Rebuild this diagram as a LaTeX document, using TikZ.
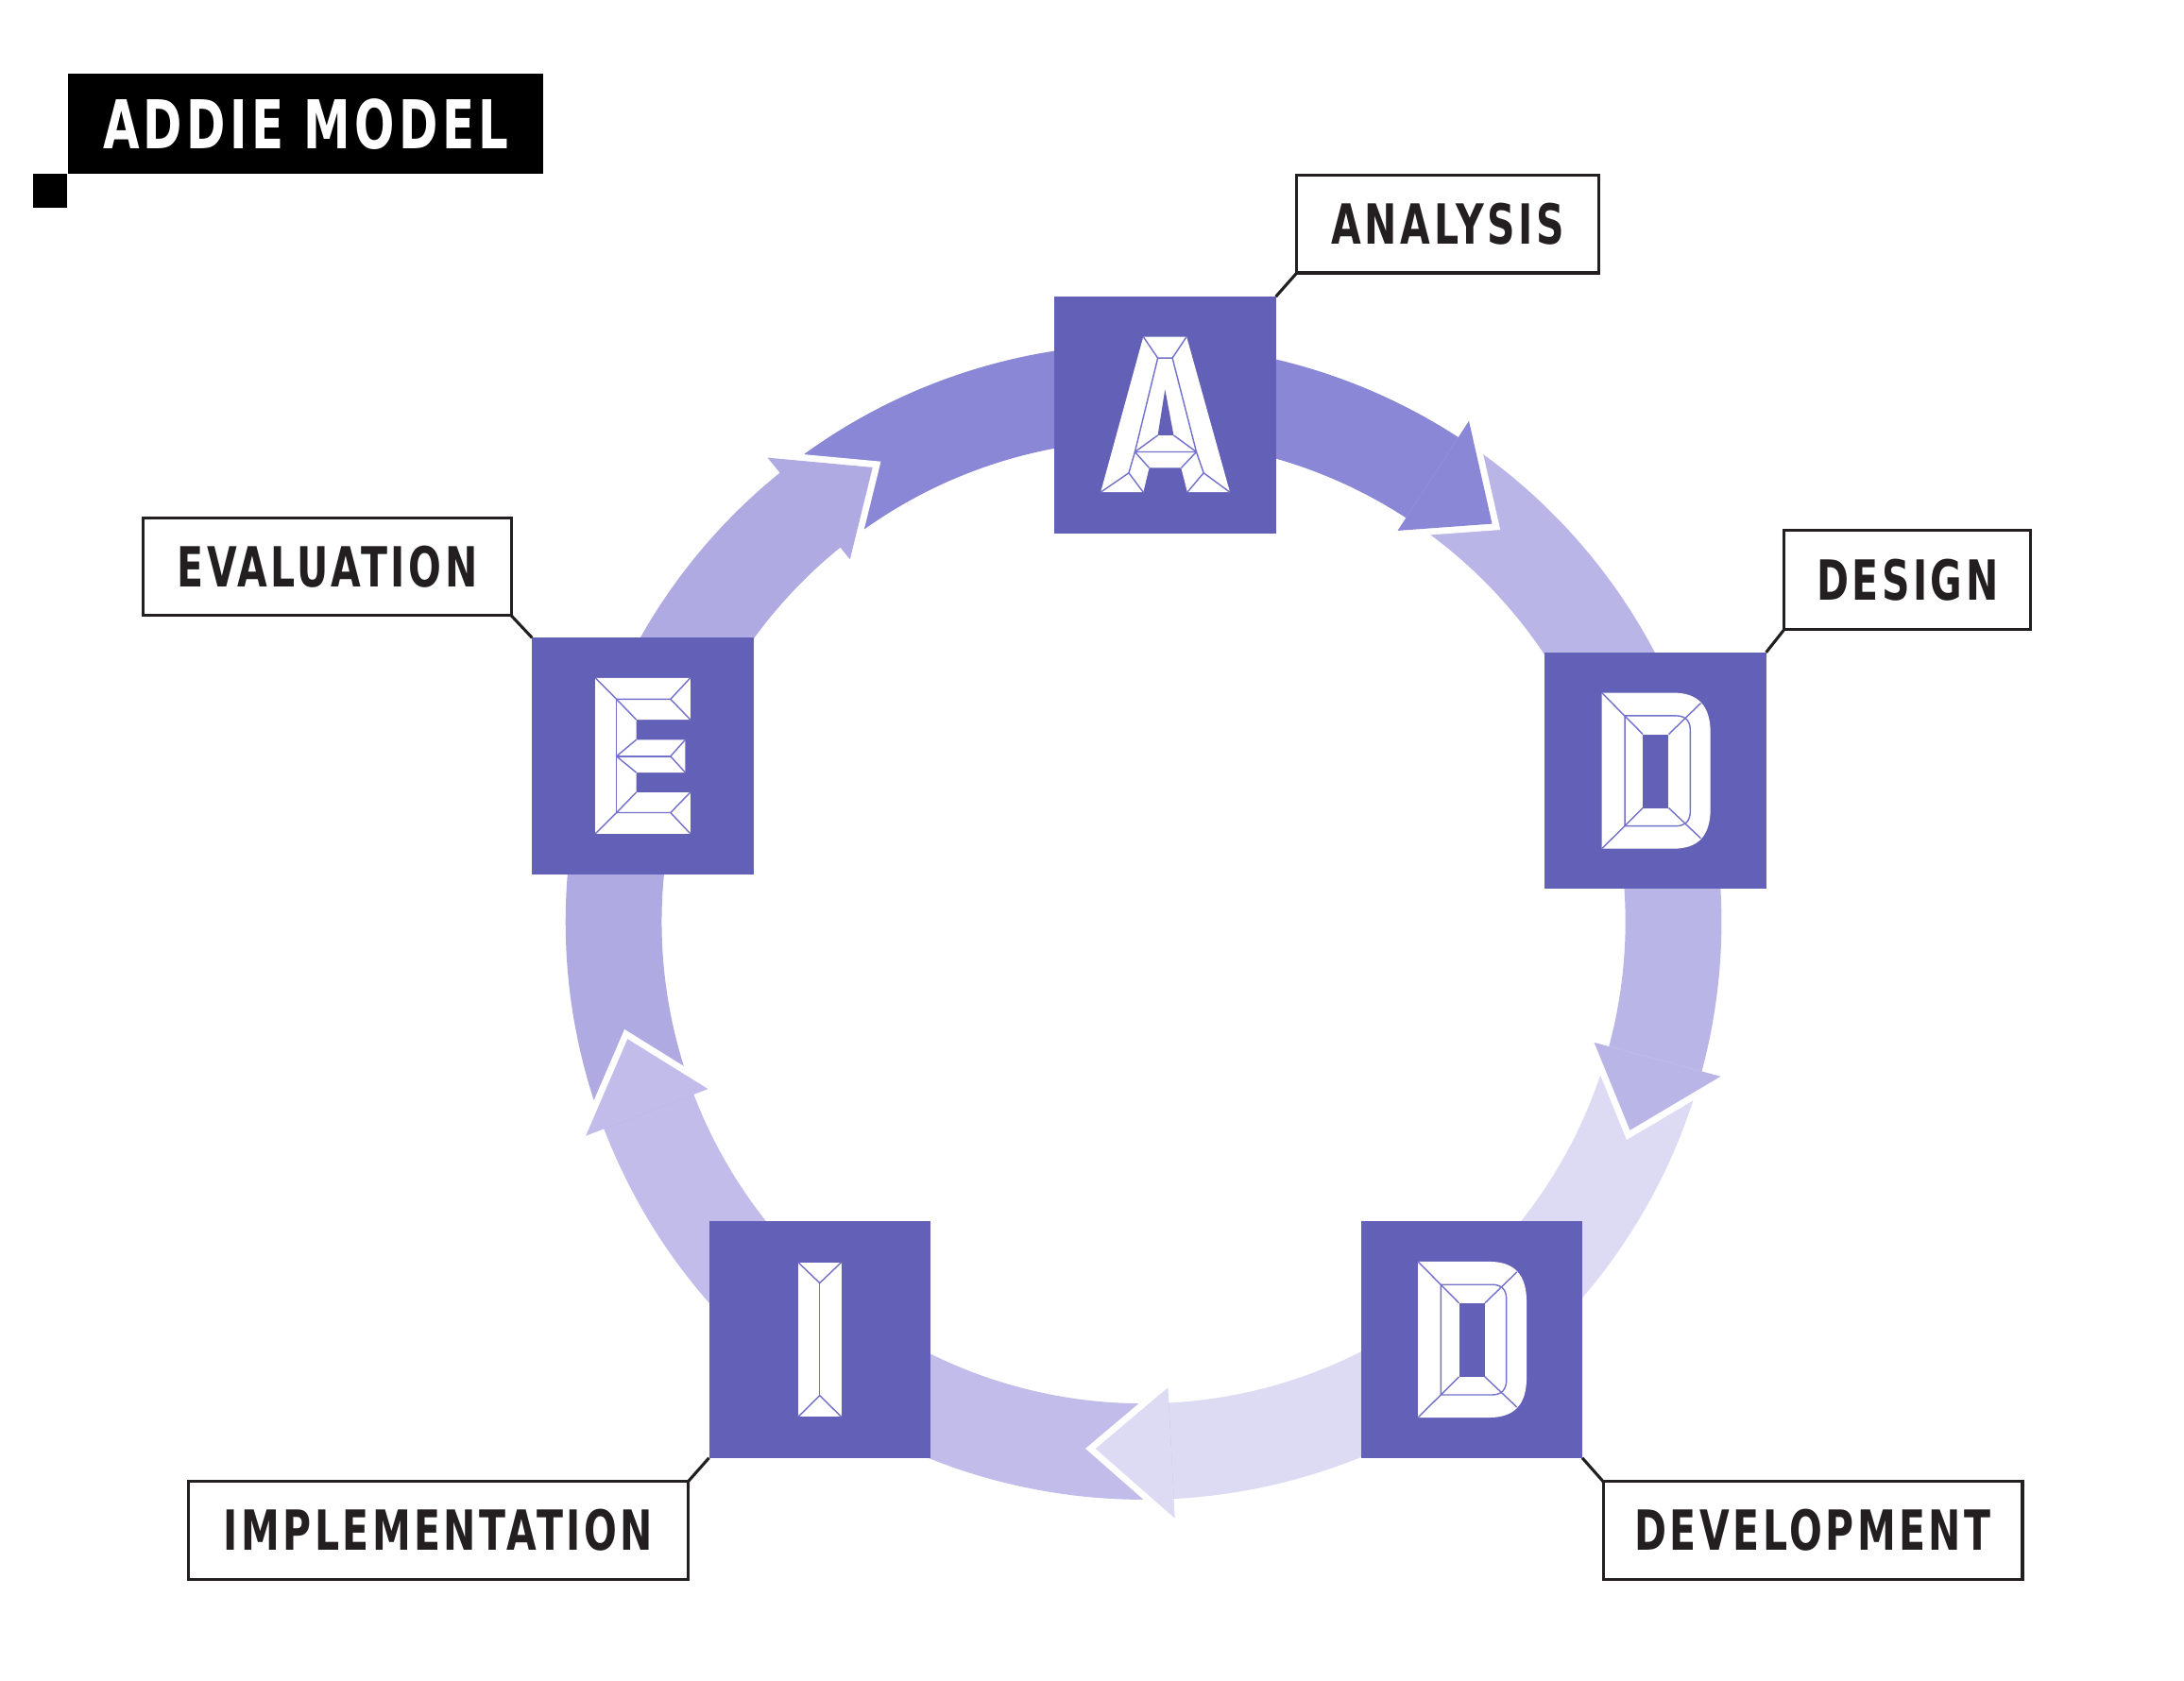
\documentclass[tikz,border=0pt]{standalone}
\usepackage{fontspec}
\newfontfamily\lblfont[FakeStretch=0.70,LetterSpace=6]{DejaVu Sans}
\definecolor{boxc}{HTML}{6361B7}
\definecolor{bandA}{HTML}{8B87D7}
\definecolor{bandD}{HTML}{B9B6E7}
\definecolor{bandV}{HTML}{DDDBF3}
\definecolor{bandI}{HTML}{C1BCEA}
\definecolor{bandE}{HTML}{AFAAE2}
\definecolor{ink}{HTML}{231F20}
\definecolor{bevel}{HTML}{7471CC}
\newcommand\ringband[3]{\fill[#3] (#1:8.3cm) arc[start angle=#1,end angle=#2,radius=8.3cm] -- (#2:6.92cm) arc[start angle=#2,end angle=#1,radius=6.92cm] -- cycle;}
\newcommand\ringhead[2]{\draw[white,line width=0.19cm,line join=miter] (#1:8.58cm) -- ({#1-8.2}:7.6cm) -- (#1:6.7cm);
  \fill[#2] (#1:8.58cm) -- ({#1-8.2}:7.6cm) -- (#1:6.7cm) -- cycle;}
\begin{document}
\begin{tikzpicture}[x=0.02cm,y=0.02cm,
  stagebox/.style={fill=boxc, minimum width=3.18cm, minimum height=3.4cm, inner sep=0pt, outer sep=0pt},
  lbl/.style={draw=ink, line width=1.2pt, fill=white, text=ink, font=\lblfont\bfseries\fontsize{22.6}{26}\selectfont, minimum height=1.4cm, inner sep=0pt, outer sep=0pt},
  link/.style={draw=ink, line width=1.2pt},
  glyph/.style={fill=white},
  hole/.style={fill=boxc},
  bev/.style={draw=bevel, line width=0.55pt, line join=round}]
\useasboundingbox (0,0) rectangle (1568,1207);
\fill[white] (0,0) rectangle (1568,1207);

% title
\node[fill=black, text=white, minimum width=6.82cm, minimum height=1.44cm, inner sep=0pt, outer sep=0pt,
  font=\lblfont\bfseries\fontsize{27.5}{32}\selectfont] (title) at (219.5,1118) {ADDIE MODEL};
\fill[black] (24,1058) rectangle (48,1082);

% ring
\begin{scope}[shift={(821,545)}]
  \ringband{129}{56}{bandA}
  \ringband{57}{-16}{bandD}
  \ringband{-15}{-88}{bandV}
  \ringband{-87}{-160}{bandI}
  \ringband{-159}{-232}{bandE}
  \ringhead{57}{bandA}
  \ringhead{-15}{bandD}
  \ringhead{-87}{bandV}
  \ringhead{-159}{bandI}
  \ringhead{-231}{bandE}
\end{scope}

% stage boxes
\node[stagebox] (A) at (836.5,909) {};
\node[stagebox] (D) at (1188.5,653.5) {};
\node[stagebox] (V) at (1056.5,245) {};
\node[stagebox] (I) at (588.5,245) {};
\node[stagebox] (E) at (461.5,664) {};

% letter A
\begin{scope}[shift={(A.north west)}, yscale=-1]
  \fill[glyph] (63.8,28.8) -- (94.9,28.8) -- (126,140.5) -- (95.4,140.5) -- (91,123) -- (68,123) -- (63.8,140.5) -- (33.2,140.5) -- cycle;
  \fill[hole] (79.4,66.6) -- (85.6,99.6) -- (74.2,99.6) -- cycle;
  \draw[bev] (63.8,28.8) -- (74.2,44.1) -- (84.7,44.1) -- (94.9,28.8);
  \draw[bev] (74.2,44.1) -- (57.8,111.5) -- (101.9,111.5) -- (84.7,44.1);
  \draw[bev] (74.2,99.6) -- (57.8,111.5) -- (68,123);
  \draw[bev] (85.6,99.6) -- (101.9,111.5) -- (91,123);
  \draw[bev] (57.8,111.5) -- (53.4,126.6) -- (33.2,140.5);
  \draw[bev] (53.4,126.6) -- (63.8,140.5);
  \draw[bev] (101.9,111.5) -- (107.1,126.6) -- (126,140.5);
  \draw[bev] (107.1,126.6) -- (95.4,140.5);
\end{scope}

% letter D (design) and D (development)
\foreach \bx in {D,V}{
\begin{scope}[shift={(\bx.north west)}, yscale=-1]
  \fill[glyph] (41,29) -- (92,29) .. controls (110,29) and (119,38) .. (119,58) -- (119,112) .. controls (119,132) and (110,141) .. (92,141) -- (41,141) -- cycle;
  \fill[hole] (70.5,58.8) rectangle (89,111.7);
  \draw[bev] (57.5,45.5) -- (94,45.5) .. controls (101,45.5) and (104.5,49) .. (104.5,56) -- (104.5,114) .. controls (104.5,121) and (101,124.7) .. (94,124.7) -- (57.5,124.7) -- cycle;
  \draw[bev] (41,29) -- (70.5,58.8);
  \draw[bev] (41,141) -- (70.5,111.7);
  \draw[bev] (112,36.5) -- (89,58.8);
  \draw[bev] (112,133.5) -- (89,111.7);
\end{scope}
}

% letter I
\begin{scope}[shift={(I.north west)}, yscale=-1]
  \fill[glyph] (63.9,29.4) rectangle (95.1,140.6);
  \draw[bev] (63.9,29.4) -- (79.5,44.4) -- (95.1,29.4);
  \draw[bev] (79.5,44.4) -- (79.5,125.1);
  \draw[bev] (63.9,140.6) -- (79.5,125.1) -- (95.1,140.6);
\end{scope}

% letter E
\begin{scope}[shift={(E.north west)}, yscale=-1]
  \fill[glyph] (45.4,28.8) -- (113.6,28.8) -- (113.6,58.8) -- (74.8,58.8) -- (74.8,73.2) -- (110,73.2) -- (110,96.8) -- (74.8,96.8) -- (74.8,111) -- (113.6,111) -- (113.6,140.7) -- (45.4,140.7) -- cycle;
  \draw[bev] (45.4,28.8) -- (60.6,44.1) -- (99.4,44.1) -- (113.6,28.8);
  \draw[bev] (99.4,44.1) -- (113.6,58.8);
  \draw[bev] (60.6,44.1) -- (74.8,58.8);
  \draw[bev] (60.6,44.1) -- (60.6,125.6);
  \draw[bev] (74.8,73.2) -- (60.6,85.1) -- (74.8,96.8);
  \draw[bev] (60.6,85.1) -- (99.4,85.1);
  \draw[bev] (110,73.2) -- (99.4,85.1) -- (110,96.8);
  \draw[bev] (74.8,111) -- (60.6,125.6) -- (99.4,125.6);
  \draw[bev] (113.6,111) -- (99.4,125.6) -- (113.6,140.7);
  \draw[bev] (45.4,140.7) -- (60.6,125.6);
\end{scope}

% labels
\node[lbl, minimum width=4.34cm] (lA) at (1039.5,1046) {ANALYSIS};
\node[lbl, minimum width=3.54cm, minimum height=1.42cm] (lD) at (1369.5,790.5) {DESIGN};
\node[lbl, minimum width=6.02cm] (lV) at (1301.5,108) {DEVELOPMENT};
\node[lbl, minimum width=7.18cm] (lI) at (314.5,108) {IMPLEMENTATION};
\node[lbl, minimum width=5.28cm] (lE) at (235,800) {EVALUATION};

% connectors
\draw[link] (lA.south west) -- (A.north east);
\draw[link] (lD.south west) -- (D.north east);
\draw[link] (V.south east) -- (lV.north west);
\draw[link] (I.south west) -- (lI.north east);
\draw[link] (E.north west) -- (lE.south east);
\end{tikzpicture}
\end{document}
